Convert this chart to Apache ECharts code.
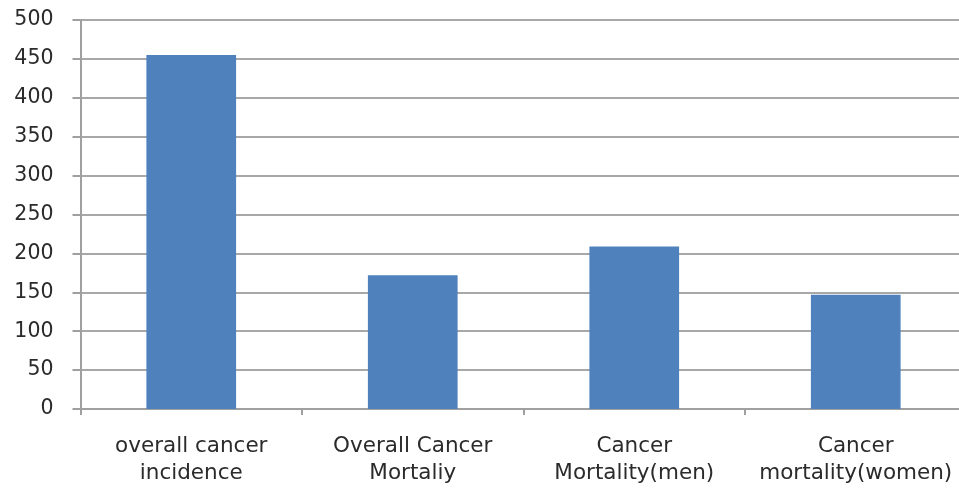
<!DOCTYPE html>
<html>
<head>
<meta charset="utf-8">
<script src="https://cdn.jsdelivr.net/npm/echarts@6/dist/echarts.min.js"></script>
<style>
html,body{margin:0;padding:0;background:#fff;}
#chart{width:959px;height:489px;}
</style>
</head>
<body>
<div id="chart"></div>
<script>
var categories = ["overall cancer\nincidence", "Overall Cancer\nMortaliy", "Cancer\nMortality(men)", "Cancer\nmortality(women)"];
var values = [455, 172, 209, 147];
var yTicks = { min: 0, max: 500, interval: 50 };

var chart = echarts.init(document.getElementById('chart'), null, { renderer: 'canvas' });
chart.setOption({
  animation: false,
  backgroundColor: '#ffffff',
  grid: { left: 80.5, width: 886, top: 20, bottom: 80, containLabel: false, outerBoundsMode: 'none' },
  xAxis: {
    type: 'category',
    data: categories,
    axisLine: { show: true, lineStyle: { color: '#a0a0a0', width: 2 } },
    axisTick: { show: true, length: 6, lineStyle: { color: '#a0a0a0', width: 2 } },
    axisLabel: {
      interval: 0,
      margin: 24,
      color: '#2b2b2b',
      fontFamily: 'DejaVu Sans',
      fontSize: 21.5,
      lineHeight: 27
    }
  },
  yAxis: {
    type: 'value',
    min: yTicks.min,
    max: yTicks.max,
    interval: yTicks.interval,
    axisLine: { show: true, lineStyle: { color: '#a0a0a0', width: 2 } },
    axisTick: { show: true, length: 8, lineStyle: { color: '#a0a0a0', width: 2 } },
    splitLine: { show: true, lineStyle: { color: '#a8a8a8', width: 2 } },
    axisLabel: {
      margin: 27,
      color: '#2b2b2b',
      fontFamily: 'DejaVu Sans',
      fontSize: 20.5
    }
  },
  series: [{
    type: 'bar',
    data: values,
    barWidth: '40.5%',
    itemStyle: { color: '#4f81bd' }
  }]
});
</script>
</body>
</html>
